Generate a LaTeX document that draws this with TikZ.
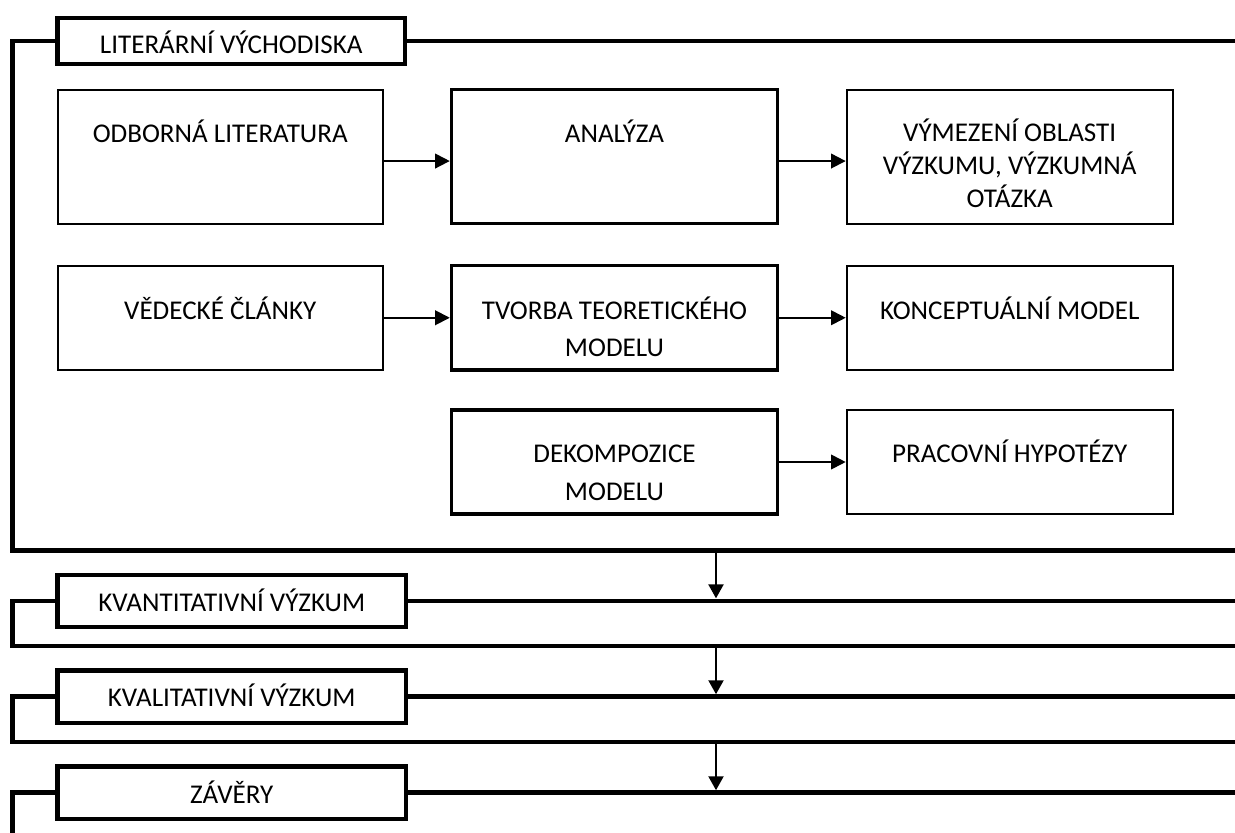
\documentclass[tikz,border=0pt]{standalone}
\usepackage{fontspec}
\setmainfont{Carlito}
\usetikzlibrary{arrows.meta,fit}
\begin{document}
\begin{tikzpicture}[x=0.75pt,y=-0.75pt,
  frameline/.style={line width=3.4pt},
  titlebox/.style={draw, line width=3.4pt, fill=white, inner sep=0pt},
  thinbox/.style={draw, line width=1.5pt, inner sep=0pt},
  thickbox/.style={draw, line width=2.6pt, inner sep=0pt},
  boxtext/.style={font=\fontsize{20.3}{28.1}\selectfont, align=center, anchor=base, inner sep=0pt},
  flow/.style={line width=1.4pt, -{Triangle[length=11pt,width=11pt]}},
  stage/.style={line width=2.2pt, -{Triangle[length=10.5pt,width=11pt]}},
]
\useasboundingbox (0,0) rectangle (1235,832);

% section headers
\node[titlebox, fit={(57.5,18) (405,64)}] (t1) {};
\node[titlebox, fit={(57.5,575) (406,627)}] (t2) {};
\node[titlebox, fit={(57.5,670.5) (406,723)}] (t3) {};
\node[titlebox, fit={(57.5,766.5) (406,819)}] (t4) {};

% section brackets
\draw[frameline] (t1.west) -| (12.5,550.5) -- (1240,550.5);
\draw[frameline] (t1.east) -- ++(900,0);
\draw[frameline] (t2.west) -| (12.5,646) -- (1240,646);
\draw[frameline] (t2.east) -- ++(900,0);
\draw[frameline] (t3.west) -| (12.5,742) -- (1240,742);
\draw[frameline] (t3.east) -- ++(900,0);
\draw[frameline] (t4.west) -| (12.5,840);
\draw[frameline] (t4.east) -- ++(900,0);

\node[boxtext] (t1-text) at (231.25,53.3) {LITERÁRNÍ VÝCHODISKA};
\node[boxtext] (t2-text) at (231.75,611.7) {KVANTITATIVNÍ VÝZKUM};
\node[boxtext] (t3-text) at (231.75,706.7) {KVALITATIVNÍ VÝZKUM};
\node[boxtext] (t4-text) at (231.75,803) {ZÁVĚRY};

% process boxes
\node[thinbox, fit={(58,89.5) (382.5,223.5)}] (lit) {};
\node[thickbox, fit={(451.5,89.5) (777.5,223.5)}] (ana) {};
\node[thinbox, fit={(846.7,89.5) (1172.7,223.5)}] (vym) {};
\node[thinbox, fit={(58,265.5) (382.5,370)}] (clanky) {};
\node[thickbox, fit={(451.5,265.5) (777.5,370)}] (tvorba) {};
\node[thinbox, fit={(846.7,265.5) (1172.7,370)}] (konc) {};
\node[thickbox, fit={(451.5,410) (777.5,514)}] (dekomp) {};
\node[thinbox, fit={(846.7,410) (1172.7,514)}] (hyp) {};

% box texts (multi-line texts are placed by the baseline of their last line)
\node[boxtext] (lit-text) at (220.25,142) {ODBORNÁ LITERATURA};
\node[boxtext] (ana-text) at (614.5,142) {ANALÝZA};
\node[boxtext, font=\fontsize{20.3}{24.4}\selectfont] (vym-text) at (1009.7,207)
  {VÝMEZENÍ OBLASTI\\VÝZKUMU, VÝZKUMNÁ\\OTÁZKA};
\node[boxtext] (clanky-text) at (220.25,319) {VĚDECKÉ ČLÁNKY};
\node[boxtext] (tvorba-text) at (614.5,356.7) {TVORBA TEORETICKÉHO\\MODELU};
\node[boxtext] (konc-text) at (1009.7,319) {KONCEPTUÁLNÍ MODEL};
\node[boxtext] (dekomp-text) at (614.5,500) {DEKOMPOZICE\\MODELU};
\node[boxtext] (hyp-text) at (1009.7,462.7) {PRACOVNÍ HYPOTÉZY};

% flow inside the first section
\draw[flow] ([yshift=-3.4pt]lit.east) -- ([yshift=-3.4pt]ana.west);
\draw[flow] ([yshift=-3.4pt]ana.east) -- ([yshift=-3.4pt]vym.west);
\draw[flow] (clanky.east) -- (tvorba.west);
\draw[flow] (tvorba.east) -- (konc.west);
\draw[flow] (dekomp.east) -- (hyp.west);

% flow between sections
\coordinate (s1-out) at (716,550.5);
\coordinate (s2-in) at (716,598.4);
\coordinate (s2-out) at (716,646);
\coordinate (s3-in) at (716,694.3);
\coordinate (s3-out) at (716,742);
\coordinate (s4-in) at (716,790.3);
\draw[stage] (s1-out) -- (s2-in);
\draw[stage] (s2-out) -- (s3-in);
\draw[stage] (s3-out) -- (s4-in);
\end{tikzpicture}
\end{document}
